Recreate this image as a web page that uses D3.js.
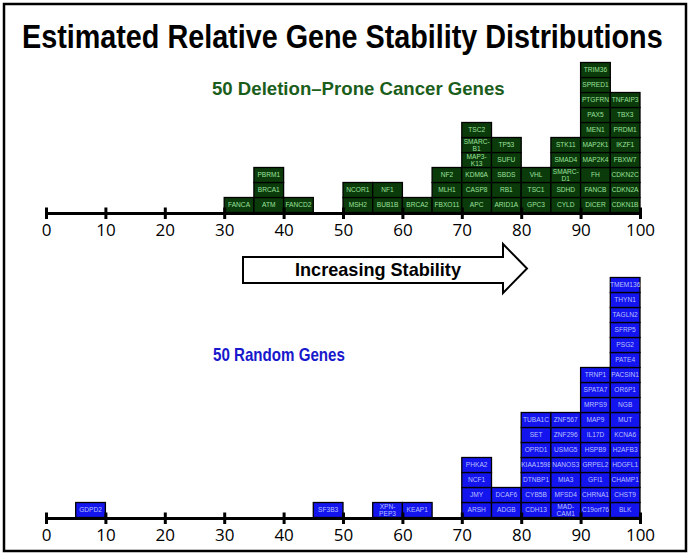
<!DOCTYPE html>
<html>
<head>
<meta charset="utf-8">
<script src="https://cdn.jsdelivr.net/npm/d3@7"></script>
<style>
  html, body { margin: 0; padding: 0; background: #fff; }
  svg { display: block; }
</style>
</head>
<body>
<svg id="chart" width="691" height="556"></svg>
<script>
// ---- DATA ----
const titleText = "Estimated Relative Gene Stability Distributions";
const deletionLabel = "50 Deletion\u2013Prone Cancer Genes";
const randomLabel = "50 Random Genes";
const arrowLabel = "Increasing Stability";
const tickValues = [0, 10, 20, 30, 40, 50, 60, 70, 80, 90, 100];
const binWidth = 5;

// deletion-prone genes: name and bin start (stacked bottom to top in order)
const deletionGenes = [
  "FANCA",
  "ATM", "BRCA1", "PBRM1",
  "FANCD2",
  "MSH2", "NCOR1",
  "BUB1B", "NF1",
  "BRCA2",
  "FBXO11", "MLH1", "NF2",
  "APC", "CASP8", "KDM6A", "MAP3-K13", "SMARC-B1", "TSC2",
  "ARID1A", "RB1", "SBDS", "SUFU", "TP53",
  "GPC3", "TSC1", "VHL",
  "CYLD", "SDHD", "SMARC-D1", "SMAD4", "STK11",
  "DICER", "FANCB", "FH", "MAP2K4", "MAP2K1", "MEN1", "PAX5", "PTGFRN", "SPRED1", "TRIM36",
  "CDKN1B", "CDKN2A", "CDKN2C", "FBXW7", "IKZF1", "PRDM1", "TBX3", "TNFAIP3"
];
const deletionScores = [
  30,
  35, 35, 35,
  40,
  50, 50,
  55, 55,
  60,
  65, 65, 65,
  70, 70, 70, 70, 70, 70,
  75, 75, 75, 75, 75,
  80, 80, 80,
  85, 85, 85, 85, 85,
  90, 90, 90, 90, 90, 90, 90, 90, 90, 90,
  95, 95, 95, 95, 95, 95, 95, 95
];

const randomGenes = [
  "GDPD2",
  "SF3B3",
  "XPN-PEP3",
  "KEAP1",
  "ARSH", "JMY", "NCF1", "PHKA2",
  "ADGB", "DCAF6",
  "CDH13", "CYB5B", "DTNBP1", "KIAA1598", "OPRD1", "SET", "TUBA1C",
  "MAD-CAM1", "MFSD4", "MIA3", "NANOS3", "USMG5", "ZNF296", "ZNF567",
  "C19orf76", "CHRNA1", "GFI1", "GRPEL2", "HSPB9", "IL17D", "MAP9", "MRPS9", "SPATA7", "TRNP1",
  "BLK", "CHST9", "CHAMP1", "HDGFL1", "H2AFB3", "KCNA6", "MUT", "NGB", "OR6P1", "PACSIN1",
  "PATE4", "PSG2", "SFRP5", "TAGLN2", "THYN1", "TMEM136"
];
const randomScores = [
  5,
  45,
  55,
  60,
  70, 70, 70, 70,
  75, 75,
  80, 80, 80, 80, 80, 80, 80,
  85, 85, 85, 85, 85, 85, 85,
  90, 90, 90, 90, 90, 90, 90, 90, 90, 90,
  95, 95, 95, 95, 95, 95, 95, 95, 95, 95,
  95, 95, 95, 95, 95, 95
];

// ---- DRAWING ----
const svg = d3.select("#chart");
const W = 691, H = 556;

svg.append("rect").attr("x", 4).attr("y", 4).attr("width", W - 9).attr("height", H - 9)
  .attr("fill", "#fff").attr("stroke", "#000").attr("stroke-width", 2.5);

// text fitted to a target width by a horizontal scale (keeps real text)
function fittedText(str, x0, y0, width, size, color, family) {
  const g = svg.append("g");
  const t = g.append("text").attr("x", 0).attr("y", 0)
    .attr("font-family", family || "Arial, 'Liberation Sans', sans-serif")
    .attr("font-weight", "bold").attr("font-size", size)
    .attr("fill", color).text(str);
  const w = t.node().getComputedTextLength();
  g.attr("transform", `translate(${x0},${y0}) scale(${width / w},1)`);
  return t;
}

fittedText(titleText, 22, 48, 641, 33, "#000", "'Liberation Sans Narrow', 'Liberation Sans', Arial, sans-serif");

const x = d3.scaleLinear().domain([0, 100]).range([46, 640]);
const boxH = 15;

function stackPositions(scores) {
  const counts = {};
  return scores.map(s => {
    const k = counts[s] || 0;
    counts[s] = k + 1;
    return k;
  });
}

function drawPanel(genes, scores, axisY, fill, textColor) {
  const y = d3.scaleLinear().domain([0, 1]).range([axisY - 0.5, axisY - 0.5 - boxH]);
  const levels = stackPositions(scores);
  const data = genes.map((g, i) => ({ g, s: scores[i], lvl: levels[i] }));
  const gBox = svg.append("g");
  const cells = gBox.selectAll("g.cell").data(data).join("g").attr("class", "cell");
  cells.append("rect")
    .attr("x", d => x(d.s))
    .attr("y", d => y(d.lvl + 1))
    .attr("width", d => x(d.s + binWidth) - x(d.s))
    .attr("height", d => y(d.lvl) - y(d.lvl + 1))
    .attr("fill", fill).attr("stroke", "#000").attr("stroke-width", 1.3);
  cells.each(function(d) {
    const cx = x(d.s + binWidth / 2);
    const cy = (y(d.lvl) + y(d.lvl + 1)) / 2;
    const parts = d.g.indexOf("-") > 0 ? [d.g.split("-")[0] + "-", d.g.split("-")[1]] : [d.g];
    const t = d3.select(this).append("text")
      .attr("text-anchor", "middle")
      .attr("font-family", "Arial, 'Liberation Sans', sans-serif")
      .attr("font-size", 6.6)
      .attr("fill", textColor);
    if (parts.length === 1) {
      t.attr("x", cx).attr("y", cy + 2.4).text(parts[0]);
    } else {
      t.append("tspan").attr("x", cx).attr("y", cy - 1).text(parts[0]);
      t.append("tspan").attr("x", cx).attr("y", cy + 6).text(parts[1]);
    }
  });

  const axis = d3.axisBottom(x).tickValues(tickValues).tickSizeOuter(0).tickSizeInner(6).tickPadding(8);
  const gA = svg.append("g").attr("transform", `translate(0,${axisY})`).call(axis);
  gA.select(".domain").attr("stroke", "#000").attr("stroke-width", 3);
  gA.selectAll(".tick line").attr("y1", -5.5).attr("y2", 6).attr("stroke", "#000").attr("stroke-width", 3);
  gA.selectAll(".tick text")
    .attr("font-family", "'Open Sans', 'Liberation Sans', sans-serif")
    .attr("font-size", 17).attr("fill", "#000").attr("y", 11);
}

drawPanel(deletionGenes, deletionScores, 213, "#0b3b0b", "#9be29b");
drawPanel(randomGenes, randomScores, 518, "#1414ee", "#b9c0ff");

fittedText(deletionLabel, 212, 95, 293, 18, "#1b5e1b");
fittedText(randomLabel, 213, 361, 132, 18, "#1818cc");

// arrow
const ax0 = 243, ax1 = 503, tip = 527, bt = 257, bb = 283, ht = 244, hb = 293, my = 268.5;
svg.append("path")
  .attr("d", `M${ax0},${bt} L${ax1},${bt} L${ax1},${ht} L${tip},${my} L${ax1},${hb} L${ax1},${bb} L${ax0},${bb} Z`)
  .attr("fill", "#fff").attr("stroke", "#000").attr("stroke-width", 2);
fittedText(arrowLabel, 295, 276, 166, 18, "#000");
</script>
</body>
</html>
